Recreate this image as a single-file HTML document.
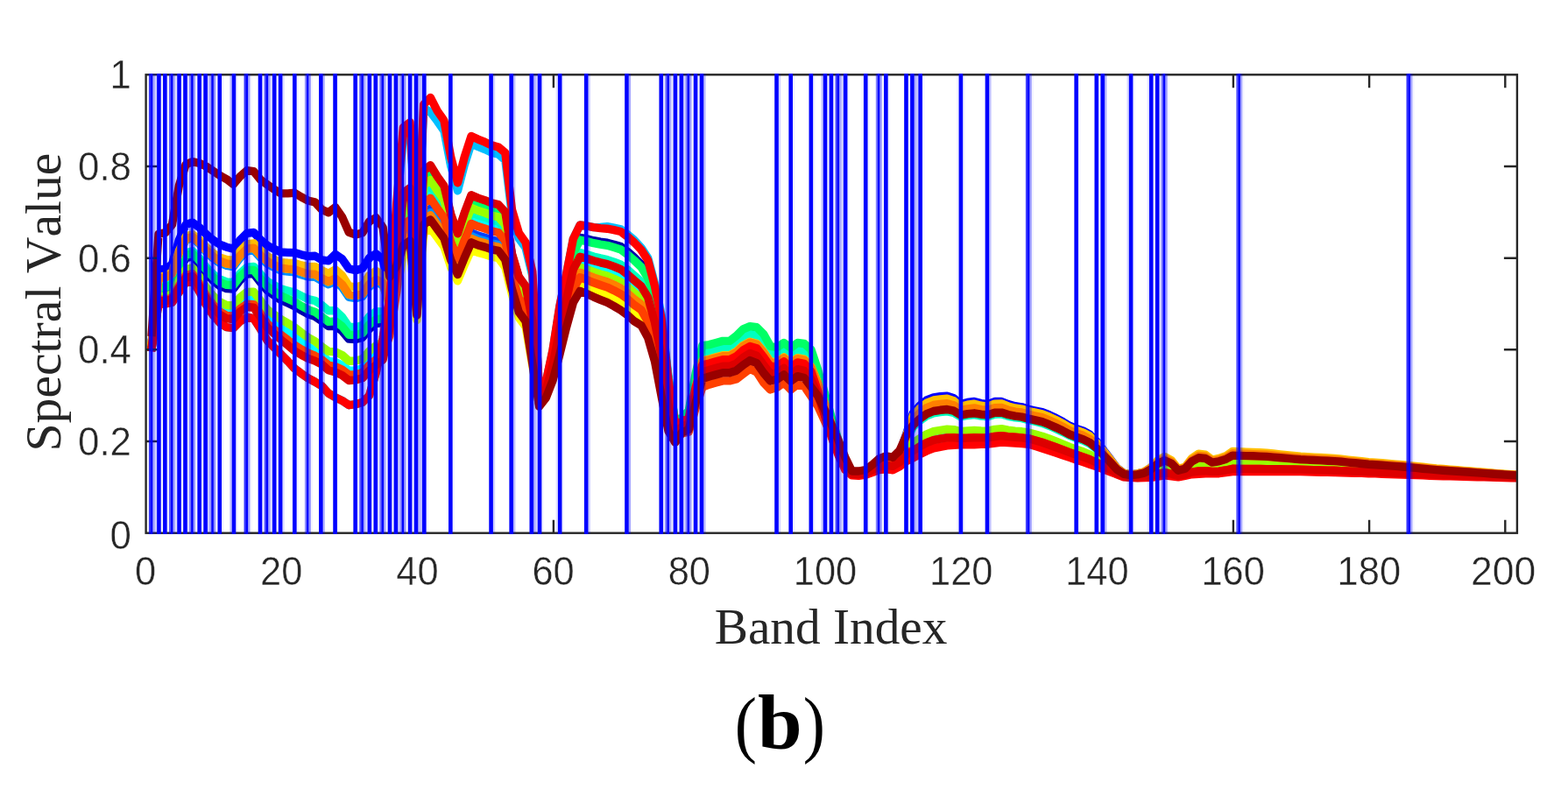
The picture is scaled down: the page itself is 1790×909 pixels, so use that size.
<!DOCTYPE html>
<html><head><meta charset="utf-8"><title>Spectral Value vs Band Index (b)</title>
<style>
html,body{margin:0;padding:0;background:#fff;}
body{width:1790px;height:909px;overflow:hidden;position:relative;}
svg{position:absolute;left:0;top:0;display:block;}
.tk{font-family:"Liberation Sans",Arial,Helvetica,sans-serif;font-size:43px;fill:#262626;stroke:#fff;stroke-width:0.4px;paint-order:fill stroke;}
.lb{font-family:"Liberation Serif","Times New Roman",Times,serif;font-size:57.3px;fill:#262626;font-kerning:none;}
.cap{font-family:"Liberation Serif","DejaVu Serif",serif;fill:#000;}
</style></head>
<body>
<svg width="1790" height="909" viewBox="0 0 1790 909">
<rect x="0" y="0" width="1790" height="909" fill="#fff"/>
<g>
<defs><clipPath id="pc"><rect x="166.6" y="85.3" width="1565.3" height="523.4"/></clipPath></defs>
<g clip-path="url(#pc)" fill="none" stroke-linejoin="round" stroke-linecap="square">
<path d="M173.3 393.2 L181.0 330.7 L188.8 330.3 L196.5 327.2 L204.3 309.0 L212.1 294.8 L219.8 292.9 L227.6 301.2 L235.3 312.1 L243.1 320.3 L250.9 326.5 L258.6 329.5 L266.4 330.0 L274.1 320.0 L281.9 312.8 L289.7 312.7 L297.4 322.5 L305.2 331.8 L312.9 337.3 L320.7 342.5 L328.5 346.1 L336.2 349.6 L344.0 354.4 L351.7 358.7 L359.5 361.3 L367.3 366.7 L375.0 372.6 L382.8 372.3 L390.5 377.9 L398.3 387.1 L406.1 387.5 L413.8 385.4 L421.6 375.5 L429.3 369.7 L437.1 368.4 L444.9 353.7 L452.6 292.4 L460.4 221.8 L468.1 216.3 L475.9 327.2 L483.7 197.0 L491.4 190.5 L499.2 203.2 L506.9 213.9 L514.7 246.1 L522.5 268.2 L530.2 244.7 L538.0 224.2 L545.7 227.6 L553.5 230.2 L561.3 233.3 L569.0 235.1 L576.8 243.6 L584.5 291.0 L592.3 317.2 L600.1 327.9 L607.8 359.3 L615.6 453.0 L623.3 442.0 L631.1 409.1 L638.9 362.6 L646.6 324.5 L654.4 286.5 L662.1 271.3 L669.9 272.7 L677.7 274.7 L685.4 276.2 L693.2 277.2 L700.9 279.2 L708.7 281.6 L716.5 287.4 L724.2 294.1 L732.0 301.8 L739.7 314.1 L747.5 338.7 L755.3 371.5 L763.0 433.9 L770.8 483.0 L778.5 478.7 L786.3 471.7 L794.1 432.0 L801.8 401.7 L809.6 400.4 L817.3 398.3 L825.1 396.2 L832.9 396.2 L840.6 391.0 L848.4 383.5 L856.1 379.9 L863.9 381.4 L871.7 389.9 L879.4 402.8 L887.2 403.6 L894.9 398.3 L902.7 404.4 L910.5 398.6 L918.2 399.8 L926.0 407.3 L933.7 428.7 L941.5 453.9 L949.3 480.1 L957.0 504.2 L964.8 526.3 L972.5 539.9 L980.3 540.1 L988.1 538.8 L995.8 534.3 L1003.6 529.0 L1011.3 526.8 L1019.1 528.1 L1026.9 520.0 L1034.6 502.2 L1042.4 485.4 L1050.1 478.2 L1057.9 472.6 L1065.7 469.5 L1073.4 468.3 L1081.2 467.5 L1088.9 469.2 L1096.7 474.1 L1104.5 472.6 L1112.2 471.8 L1120.0 473.2 L1127.7 473.9 L1135.5 471.3 L1143.3 471.1 L1151.0 473.5 L1158.8 475.2 L1166.5 476.1 L1174.3 478.1 L1182.1 479.9 L1189.8 481.7 L1197.6 484.7 L1205.3 488.1 L1213.1 491.8 L1220.9 496.0 L1228.6 499.0 L1236.4 501.6 L1244.1 505.4 L1251.9 511.8 L1259.7 520.2 L1267.4 528.4 L1275.2 536.7 L1282.9 541.7 L1290.7 543.0 L1298.5 542.5 L1306.2 541.2 L1314.0 538.0 L1321.7 533.0 L1329.5 530.3 L1337.3 533.4 L1345.0 539.7 L1352.8 537.8 L1360.5 531.6 L1368.3 528.5 L1376.1 528.9 L1383.8 532.0 L1391.6 531.2 L1399.3 529.2 L1407.1 525.9 L1414.9 526.0 L1422.6 526.2 L1430.4 526.4 L1438.1 526.6 L1445.9 526.8 L1453.7 527.2 L1461.4 527.7 L1469.2 528.1 L1476.9 528.6 L1484.7 529.1 L1492.5 529.4 L1500.2 529.7 L1508.0 530.0 L1515.7 530.4 L1523.5 530.7 L1531.3 531.2 L1539.0 531.8 L1546.8 532.4 L1554.5 532.9 L1562.3 533.5 L1570.1 533.9 L1577.8 534.4 L1585.6 534.9 L1593.3 535.4 L1601.1 535.8 L1608.9 536.4 L1616.6 537.0 L1624.4 537.6 L1632.1 538.2 L1639.9 538.8 L1647.7 539.2 L1655.4 539.6 L1663.2 540.1 L1670.9 540.5 L1678.7 540.9 L1686.5 541.4 L1694.2 541.8 L1702.0 542.2 L1709.7 542.7 L1717.5 543.1 L1725.3 543.5 L1733.0 543.9" stroke="#0000aa" stroke-width="9.4"/>
<path d="M173.3 388.3 L181.0 308.0 L188.8 307.1 L196.5 301.8 L204.3 274.3 L212.1 256.4 L219.8 254.1 L227.6 259.6 L235.3 267.4 L243.1 274.0 L250.9 279.2 L258.6 282.2 L266.4 284.1 L274.1 274.0 L281.9 266.4 L289.7 265.5 L297.4 273.9 L305.2 280.4 L312.9 284.4 L320.7 287.9 L328.5 288.4 L336.2 288.5 L344.0 290.8 L351.7 292.6 L359.5 292.3 L367.3 296.8 L375.0 297.9 L382.8 290.4 L390.5 295.6 L398.3 306.8 L406.1 308.6 L413.8 306.5 L421.6 294.6 L429.3 289.8 L437.1 296.6 L444.9 332.2 L452.6 309.1 L460.4 270.7 L468.1 265.4 L475.9 354.8 L483.7 246.8 L491.4 241.2 L499.2 252.3 L506.9 262.9 L514.7 288.8 L522.5 306.3 L530.2 286.5 L538.0 268.4 L545.7 271.6 L553.5 273.8 L561.3 276.6 L569.0 278.2 L576.8 288.1 L584.5 323.9 L592.3 350.1 L600.1 360.7 L607.8 402.7 L615.6 461.3 L623.3 451.0 L631.1 427.1 L638.9 392.3 L646.6 358.5 L654.4 327.2 L662.1 313.5 L669.9 316.1 L677.7 319.3 L685.4 321.9 L693.2 324.4 L700.9 327.9 L708.7 331.9 L716.5 337.7 L724.2 344.4 L732.0 350.1 L739.7 363.6 L747.5 387.5 L755.3 423.0 L763.0 468.5 L770.8 495.3 L778.5 486.5 L786.3 480.7 L794.1 444.1 L801.8 413.6 L809.6 411.8 L817.3 409.7 L825.1 407.6 L832.9 407.6 L840.6 403.4 L848.4 396.3 L856.1 392.1 L863.9 394.2 L871.7 403.7 L879.4 415.2 L887.2 414.9 L894.9 409.7 L902.7 416.3 L910.5 410.5 L918.2 412.0 L926.0 420.7 L933.7 439.0 L941.5 461.8 L949.3 485.3 L957.0 506.7 L964.8 527.0 L972.5 539.9 L980.3 540.1 L988.1 538.8 L995.8 534.3 L1003.6 529.0 L1011.3 526.8 L1019.1 528.1 L1026.9 518.2 L1034.6 495.7 L1042.4 471.6 L1050.1 463.2 L1057.9 456.9 L1065.7 453.8 L1073.4 452.7 L1081.2 452.2 L1088.9 454.8 L1096.7 461.6 L1104.5 459.5 L1112.2 458.5 L1120.0 460.6 L1127.7 461.6 L1135.5 458.5 L1143.3 458.5 L1151.0 461.6 L1158.8 463.7 L1166.5 464.8 L1174.3 467.4 L1182.1 469.0 L1189.8 470.5 L1197.6 473.7 L1205.3 477.3 L1213.1 481.5 L1220.9 486.2 L1228.6 489.4 L1236.4 492.0 L1244.1 496.2 L1251.9 504.0 L1259.7 514.1 L1267.4 524.2 L1275.2 534.6 L1282.9 540.3 L1290.7 541.9 L1298.5 540.9 L1306.2 539.0 L1314.0 534.1 L1321.7 526.9 L1329.5 523.1 L1337.3 527.2 L1345.0 536.4 L1352.8 534.3 L1360.5 525.2 L1368.3 520.5 L1376.1 521.3 L1383.8 526.5 L1391.6 525.1 L1399.3 522.7 L1407.1 517.8 L1414.9 518.1 L1422.6 518.3 L1430.4 518.6 L1438.1 518.9 L1445.9 519.3 L1453.7 520.0 L1461.4 520.8 L1469.2 521.5 L1476.9 522.3 L1484.7 523.0 L1492.5 523.4 L1500.2 523.8 L1508.0 524.2 L1515.7 524.6 L1523.5 525.0 L1531.3 525.8 L1539.0 526.6 L1546.8 527.3 L1554.5 528.1 L1562.3 528.9 L1570.1 529.5 L1577.8 530.1 L1585.6 530.7 L1593.3 531.3 L1601.1 531.8 L1608.9 532.6 L1616.6 533.4 L1624.4 534.2 L1632.1 535.0 L1639.9 535.8 L1647.7 536.3 L1655.4 536.9 L1663.2 537.5 L1670.9 538.1 L1678.7 538.7 L1686.5 539.3 L1694.2 539.9 L1702.0 540.4 L1709.7 541.0 L1717.5 541.6 L1725.3 542.1 L1733.0 542.6" stroke="#0000ff" stroke-width="9.4"/>
<path d="M173.3 390.3 L181.0 317.5 L188.8 316.9 L196.5 312.5 L204.3 288.9 L212.1 272.6 L219.8 270.5 L227.6 276.9 L235.3 285.8 L243.1 292.8 L250.9 298.2 L258.6 301.0 L266.4 302.1 L274.1 291.8 L281.9 284.1 L289.7 283.1 L297.4 291.5 L305.2 298.5 L312.9 302.5 L320.7 306.1 L328.5 307.1 L336.2 307.7 L344.0 310.6 L351.7 312.9 L359.5 313.2 L367.3 317.8 L375.0 321.7 L382.8 318.0 L390.5 324.7 L398.3 336.4 L406.1 337.7 L413.8 335.6 L421.6 324.4 L429.3 319.3 L437.1 323.1 L444.9 344.9 L452.6 315.8 L460.4 267.8 L468.1 262.5 L475.9 353.1 L483.7 243.9 L491.4 238.3 L499.2 249.4 L506.9 260.0 L514.7 286.3 L522.5 304.0 L530.2 284.1 L538.0 265.8 L545.7 269.0 L553.5 271.2 L561.3 274.0 L569.0 275.7 L576.8 285.5 L584.5 322.0 L592.3 348.2 L600.1 358.7 L607.8 400.2 L615.6 460.8 L623.3 450.5 L631.1 426.1 L638.9 390.7 L646.6 356.7 L654.4 325.1 L662.1 311.2 L669.9 313.8 L677.7 316.9 L685.4 319.4 L693.2 321.8 L700.9 325.3 L708.7 329.2 L716.5 335.0 L724.2 341.7 L732.0 347.5 L739.7 361.0 L747.5 386.2 L755.3 423.2 L763.0 470.0 L770.8 496.4 L778.5 487.6 L786.3 482.5 L794.1 447.6 L801.8 418.3 L809.6 416.4 L817.3 414.3 L825.1 412.2 L832.9 412.2 L840.6 408.3 L848.4 401.4 L856.1 397.0 L863.9 399.3 L871.7 409.3 L879.4 420.1 L887.2 419.5 L894.9 414.3 L902.7 421.1 L910.5 415.3 L918.2 416.9 L926.0 426.0 L933.7 443.1 L941.5 465.0 L949.3 487.4 L957.0 507.8 L964.8 527.4 L972.5 539.9 L980.3 540.1 L988.1 538.8 L995.8 534.3 L1003.6 529.0 L1011.3 526.8 L1019.1 528.1 L1026.9 519.2 L1034.6 499.3 L1042.4 479.3 L1050.1 471.5 L1057.9 465.6 L1065.7 462.5 L1073.4 461.4 L1081.2 460.7 L1088.9 462.8 L1096.7 468.6 L1104.5 466.8 L1112.2 465.9 L1120.0 467.6 L1127.7 468.5 L1135.5 465.6 L1143.3 465.5 L1151.0 468.2 L1158.8 470.1 L1166.5 471.0 L1174.3 473.3 L1182.1 475.0 L1189.8 476.7 L1197.6 479.8 L1205.3 483.3 L1213.1 487.2 L1220.9 491.6 L1228.6 494.7 L1236.4 497.3 L1244.1 501.3 L1251.9 508.3 L1259.7 517.5 L1267.4 526.5 L1275.2 535.8 L1282.9 541.1 L1290.7 542.5 L1298.5 541.8 L1306.2 540.2 L1314.0 536.3 L1321.7 530.4 L1329.5 527.2 L1337.3 530.7 L1345.0 538.3 L1352.8 536.3 L1360.5 528.9 L1368.3 525.1 L1376.1 525.6 L1383.8 529.7 L1391.6 528.6 L1399.3 526.4 L1407.1 522.4 L1414.9 522.6 L1422.6 522.8 L1430.4 523.1 L1438.1 523.3 L1445.9 523.5 L1453.7 524.1 L1461.4 524.7 L1469.2 525.3 L1476.9 525.9 L1484.7 526.5 L1492.5 526.8 L1500.2 527.2 L1508.0 527.5 L1515.7 527.9 L1523.5 528.3 L1531.3 528.9 L1539.0 529.6 L1546.8 530.2 L1554.5 530.8 L1562.3 531.5 L1570.1 532.0 L1577.8 532.5 L1585.6 533.1 L1593.3 533.6 L1601.1 534.1 L1608.9 534.8 L1616.6 535.5 L1624.4 536.1 L1632.1 536.8 L1639.9 537.5 L1647.7 538.0 L1655.4 538.5 L1663.2 539.0 L1670.9 539.5 L1678.7 540.0 L1686.5 540.5 L1694.2 541.0 L1702.0 541.5 L1709.7 542.0 L1717.5 542.5 L1725.3 542.9 L1733.0 543.3" stroke="#0040ff" stroke-width="9.4"/>
<path d="M173.3 390.5 L181.0 318.3 L188.8 317.7 L196.5 313.4 L204.3 290.1 L212.1 273.9 L219.8 271.8 L227.6 278.5 L235.3 287.6 L243.1 294.8 L250.9 300.4 L258.6 303.3 L266.4 304.5 L274.1 294.3 L281.9 286.8 L289.7 285.8 L297.4 294.2 L305.2 301.3 L312.9 305.4 L320.7 309.0 L328.5 310.1 L336.2 310.9 L344.0 313.8 L351.7 316.0 L359.5 316.3 L367.3 320.8 L375.0 324.8 L382.8 321.3 L390.5 327.8 L398.3 339.3 L406.1 340.6 L413.8 338.5 L421.6 327.4 L429.3 322.2 L437.1 325.7 L444.9 347.7 L452.6 320.4 L460.4 272.2 L468.1 266.9 L475.9 355.6 L483.7 248.3 L491.4 242.7 L499.2 253.8 L506.9 264.3 L514.7 290.1 L522.5 307.4 L530.2 287.8 L538.0 269.7 L545.7 272.9 L553.5 275.1 L561.3 277.8 L569.0 279.5 L576.8 289.4 L584.5 324.9 L592.3 351.1 L600.1 361.6 L607.8 403.5 L615.6 461.4 L623.3 451.0 L631.1 427.2 L638.9 392.3 L646.6 358.5 L654.4 327.2 L662.1 313.5 L669.9 316.1 L677.7 319.3 L685.4 321.9 L693.2 324.4 L700.9 327.9 L708.7 331.9 L716.5 337.7 L724.2 344.4 L732.0 350.1 L739.7 363.6 L747.5 388.1 L755.3 424.3 L763.0 470.0 L770.8 496.1 L778.5 487.2 L786.3 481.7 L794.1 445.9 L801.8 415.9 L809.6 414.1 L817.3 412.0 L825.1 409.9 L832.9 409.9 L840.6 405.9 L848.4 398.9 L856.1 394.6 L863.9 396.8 L871.7 406.5 L879.4 417.7 L887.2 417.2 L894.9 412.0 L902.7 418.7 L910.5 412.9 L918.2 414.4 L926.0 423.4 L933.7 441.1 L941.5 463.4 L949.3 486.4 L957.0 507.2 L964.8 527.2 L972.5 539.9 L980.3 540.1 L988.1 538.8 L995.8 534.3 L1003.6 529.0 L1011.3 526.8 L1019.1 528.1 L1026.9 519.2 L1034.6 499.3 L1042.4 479.3 L1050.1 471.5 L1057.9 465.6 L1065.7 462.5 L1073.4 461.4 L1081.2 460.7 L1088.9 462.8 L1096.7 468.6 L1104.5 466.8 L1112.2 465.9 L1120.0 467.6 L1127.7 468.5 L1135.5 465.6 L1143.3 465.5 L1151.0 468.2 L1158.8 470.1 L1166.5 471.0 L1174.3 473.3 L1182.1 475.0 L1189.8 476.7 L1197.6 479.8 L1205.3 483.3 L1213.1 487.2 L1220.9 491.6 L1228.6 494.7 L1236.4 497.3 L1244.1 501.3 L1251.9 508.3 L1259.7 517.5 L1267.4 526.5 L1275.2 535.8 L1282.9 541.1 L1290.7 542.5 L1298.5 541.8 L1306.2 540.2 L1314.0 536.3 L1321.7 530.4 L1329.5 527.2 L1337.3 530.7 L1345.0 538.3 L1352.8 536.3 L1360.5 528.9 L1368.3 525.1 L1376.1 525.6 L1383.8 529.7 L1391.6 528.6 L1399.3 526.4 L1407.1 522.4 L1414.9 522.6 L1422.6 522.8 L1430.4 523.1 L1438.1 523.3 L1445.9 523.5 L1453.7 524.1 L1461.4 524.7 L1469.2 525.3 L1476.9 525.9 L1484.7 526.5 L1492.5 526.8 L1500.2 527.2 L1508.0 527.5 L1515.7 527.9 L1523.5 528.3 L1531.3 528.9 L1539.0 529.6 L1546.8 530.2 L1554.5 530.8 L1562.3 531.5 L1570.1 532.0 L1577.8 532.5 L1585.6 533.1 L1593.3 533.6 L1601.1 534.1 L1608.9 534.8 L1616.6 535.5 L1624.4 536.1 L1632.1 536.8 L1639.9 537.5 L1647.7 538.0 L1655.4 538.5 L1663.2 539.0 L1670.9 539.5 L1678.7 540.0 L1686.5 540.5 L1694.2 541.0 L1702.0 541.5 L1709.7 542.0 L1717.5 542.5 L1725.3 542.9 L1733.0 543.3" stroke="#0090ff" stroke-width="9.4"/>
<path d="M173.3 396.7 L181.0 347.0 L188.8 347.0 L196.5 345.4 L204.3 333.9 L212.1 322.4 L219.8 320.8 L227.6 332.9 L235.3 348.0 L243.1 359.6 L250.9 368.5 L258.6 373.7 L266.4 374.7 L274.1 366.9 L281.9 362.2 L289.7 363.7 L297.4 375.8 L305.2 388.9 L312.9 396.7 L320.7 404.6 L328.5 412.4 L336.2 420.8 L344.0 426.6 L351.7 431.8 L359.5 436.0 L367.3 440.7 L375.0 449.1 L382.8 453.8 L390.5 457.4 L398.3 462.7 L406.1 461.6 L413.8 459.5 L421.6 451.7 L429.3 425.2 L437.1 386.6 L444.9 342.0 L452.6 241.9 L460.4 154.8 L468.1 147.4 L475.9 287.6 L483.7 123.7 L491.4 127.9 L499.2 138.2 L506.9 149.2 L514.7 189.6 L522.5 217.8 L530.2 188.4 L538.0 163.9 L545.7 167.5 L553.5 170.6 L561.3 174.2 L569.0 176.2 L576.8 182.8 L584.5 246.0 L592.3 272.2 L600.1 283.1 L607.8 314.9 L615.6 446.8 L623.3 436.2 L631.1 399.7 L638.9 349.9 L646.6 313.0 L654.4 272.7 L662.1 257.0 L669.9 258.0 L677.7 259.6 L685.4 259.4 L693.2 258.6 L700.9 260.1 L708.7 261.8 L716.5 267.7 L724.2 274.4 L732.0 282.9 L739.7 294.6 L747.5 323.6 L755.3 360.5 L763.0 430.5 L770.8 483.5 L778.5 480.3 L786.3 475.3 L794.1 440.0 L801.8 413.6 L809.6 411.8 L817.3 409.7 L825.1 407.6 L832.9 407.6 L840.6 403.4 L848.4 396.3 L856.1 392.1 L863.9 394.2 L871.7 403.7 L879.4 415.2 L887.2 414.9 L894.9 409.7 L902.7 416.3 L910.5 410.5 L918.2 412.0 L926.0 420.7 L933.7 439.0 L941.5 461.8 L949.3 485.3 L957.0 506.7 L964.8 527.0 L972.5 539.9 L980.3 540.1 L988.1 538.8 L995.8 534.3 L1003.6 529.0 L1011.3 526.8 L1019.1 528.1 L1026.9 524.5 L1034.6 518.4 L1042.4 520.3 L1050.1 516.1 L1057.9 512.1 L1065.7 509.0 L1073.4 507.4 L1081.2 506.1 L1088.9 505.5 L1096.7 505.6 L1104.5 505.4 L1112.2 505.2 L1120.0 505.1 L1127.7 504.9 L1135.5 503.7 L1143.3 502.7 L1151.0 503.4 L1158.8 504.0 L1166.5 504.5 L1174.3 505.2 L1182.1 507.5 L1189.8 509.8 L1197.6 512.4 L1205.3 515.1 L1213.1 517.8 L1220.9 520.5 L1228.6 523.2 L1236.4 525.8 L1244.1 528.5 L1251.9 531.4 L1259.7 534.6 L1267.4 538.0 L1275.2 541.4 L1282.9 544.5 L1290.7 545.1 L1298.5 545.5 L1306.2 545.1 L1314.0 544.4 L1321.7 542.4 L1329.5 540.8 L1337.3 542.0 L1345.0 543.9 L1352.8 542.3 L1360.5 539.9 L1368.3 538.9 L1376.1 538.5 L1383.8 539.1 L1391.6 538.9 L1399.3 537.7 L1407.1 536.3 L1414.9 536.3 L1422.6 536.3 L1430.4 536.3 L1438.1 536.4 L1445.9 536.4 L1453.7 536.5 L1461.4 536.6 L1469.2 536.7 L1476.9 536.8 L1484.7 536.8 L1492.5 537.1 L1500.2 537.3 L1508.0 537.5 L1515.7 537.8 L1523.5 538.0 L1531.3 538.3 L1539.0 538.5 L1546.8 538.8 L1554.5 539.1 L1562.3 539.3 L1570.1 539.7 L1577.8 540.0 L1585.6 540.3 L1593.3 540.6 L1601.1 540.9 L1608.9 541.3 L1616.6 541.6 L1624.4 541.9 L1632.1 542.3 L1639.9 542.6 L1647.7 542.9 L1655.4 543.1 L1663.2 543.4 L1670.9 543.6 L1678.7 543.8 L1686.5 544.1 L1694.2 544.3 L1702.0 544.6 L1709.7 544.8 L1717.5 545.0 L1725.3 545.3 L1733.0 545.5" stroke="#00bfff" stroke-width="9.4"/>
<path d="M173.3 395.3 L181.0 340.6 L188.8 340.5 L196.5 338.3 L204.3 324.2 L212.1 311.6 L219.8 309.9 L227.6 320.3 L235.3 333.6 L243.1 343.6 L250.9 351.2 L258.6 355.4 L266.4 356.0 L274.1 347.1 L281.9 341.2 L289.7 341.4 L297.4 351.6 L305.2 362.2 L312.9 368.2 L320.7 374.0 L328.5 379.0 L336.2 384.1 L344.0 390.3 L351.7 395.9 L359.5 400.3 L367.3 406.2 L375.0 412.3 L382.8 413.5 L390.5 417.0 L398.3 423.2 L406.1 422.9 L413.8 420.8 L421.6 411.9 L429.3 405.6 L437.1 400.7 L444.9 378.5 L452.6 325.5 L460.4 247.7 L468.1 242.3 L475.9 341.8 L483.7 223.4 L491.4 217.4 L499.2 229.2 L506.9 239.8 L514.7 268.7 L522.5 288.3 L530.2 266.8 L538.0 247.6 L545.7 250.9 L553.5 253.3 L561.3 256.2 L569.0 257.9 L576.8 267.2 L584.5 308.5 L592.3 334.6 L600.1 345.2 L607.8 384.6 L615.6 458.2 L623.3 447.7 L631.1 420.9 L638.9 382.4 L646.6 347.6 L654.4 314.1 L662.1 299.9 L669.9 302.2 L677.7 304.9 L685.4 307.2 L693.2 309.2 L700.9 312.3 L708.7 315.7 L716.5 321.5 L724.2 328.3 L732.0 334.6 L739.7 347.7 L747.5 374.5 L755.3 412.6 L763.0 464.1 L770.8 494.9 L778.5 487.1 L786.3 482.5 L794.1 448.6 L801.8 420.7 L809.6 418.6 L817.3 416.5 L825.1 414.4 L832.9 414.4 L840.6 410.8 L848.4 404.0 L856.1 399.4 L863.9 401.9 L871.7 412.1 L879.4 422.6 L887.2 421.8 L894.9 416.5 L902.7 423.4 L910.5 417.7 L918.2 419.3 L926.0 428.7 L933.7 445.2 L941.5 466.6 L949.3 488.5 L957.0 508.3 L964.8 527.5 L972.5 539.9 L980.3 540.1 L988.1 538.8 L995.8 534.3 L1003.6 529.0 L1011.3 526.8 L1019.1 528.1 L1026.9 523.1 L1034.6 513.1 L1042.4 509.0 L1050.1 503.8 L1057.9 499.3 L1065.7 496.2 L1073.4 494.8 L1081.2 493.6 L1088.9 493.8 L1096.7 495.4 L1104.5 494.8 L1112.2 494.4 L1120.0 494.8 L1127.7 494.9 L1135.5 493.3 L1143.3 492.5 L1151.0 493.7 L1158.8 494.7 L1166.5 495.3 L1174.3 496.4 L1182.1 498.6 L1189.8 500.7 L1197.6 503.5 L1205.3 506.4 L1213.1 509.4 L1220.9 512.6 L1228.6 515.3 L1236.4 518.0 L1244.1 521.0 L1251.9 525.0 L1259.7 529.4 L1267.4 534.1 L1275.2 539.3 L1282.9 543.1 L1290.7 544.0 L1298.5 543.7 L1306.2 542.6 L1314.0 539.9 L1321.7 535.1 L1329.5 532.0 L1337.3 534.2 L1345.0 539.7 L1352.8 537.8 L1360.5 531.6 L1368.3 528.5 L1376.1 528.9 L1383.8 532.0 L1391.6 531.2 L1399.3 529.2 L1407.1 525.9 L1414.9 526.0 L1422.6 526.2 L1430.4 526.4 L1438.1 526.6 L1445.9 526.8 L1453.7 527.2 L1461.4 527.7 L1469.2 528.1 L1476.9 528.6 L1484.7 529.1 L1492.5 529.4 L1500.2 529.7 L1508.0 530.0 L1515.7 530.4 L1523.5 530.7 L1531.3 531.2 L1539.0 531.8 L1546.8 532.4 L1554.5 532.9 L1562.3 533.5 L1570.1 533.9 L1577.8 534.4 L1585.6 534.9 L1593.3 535.4 L1601.1 535.8 L1608.9 536.4 L1616.6 537.0 L1624.4 537.6 L1632.1 538.2 L1639.9 538.8 L1647.7 539.2 L1655.4 539.6 L1663.2 540.1 L1670.9 540.5 L1678.7 540.9 L1686.5 541.4 L1694.2 541.8 L1702.0 542.2 L1709.7 542.7 L1717.5 543.1 L1725.3 543.5 L1733.0 543.9" stroke="#00ffff" stroke-width="9.4"/>
<path d="M173.3 392.4 L181.0 327.1 L188.8 326.7 L196.5 323.2 L204.3 303.5 L212.1 288.7 L219.8 286.8 L227.6 294.6 L235.3 305.0 L243.1 312.9 L250.9 318.9 L258.6 321.9 L266.4 322.6 L274.1 312.5 L281.9 305.2 L289.7 304.4 L297.4 313.2 L305.2 321.3 L312.9 325.7 L320.7 329.9 L328.5 332.0 L336.2 334.0 L344.0 338.0 L351.7 341.6 L359.5 343.3 L367.3 348.4 L375.0 354.8 L382.8 354.7 L390.5 361.9 L398.3 373.1 L406.1 373.7 L413.8 371.6 L421.6 361.4 L429.3 355.8 L437.1 355.9 L444.9 353.7 L452.6 305.1 L460.4 241.9 L468.1 236.5 L475.9 338.5 L483.7 217.5 L491.4 211.4 L499.2 223.4 L506.9 234.1 L514.7 263.7 L522.5 283.9 L530.2 261.9 L538.0 242.4 L545.7 245.7 L553.5 248.2 L561.3 251.1 L569.0 252.9 L576.8 261.9 L584.5 304.6 L592.3 330.7 L600.1 341.4 L607.8 377.1 L615.6 456.4 L623.3 445.7 L631.1 416.5 L638.9 374.8 L646.6 338.5 L654.4 303.2 L662.1 288.6 L669.9 290.6 L677.7 293.0 L685.4 294.9 L693.2 296.6 L700.9 299.2 L708.7 302.2 L716.5 308.1 L724.2 314.8 L732.0 321.6 L739.7 334.4 L747.5 357.9 L755.3 390.7 L763.0 446.0 L770.8 487.0 L778.5 481.0 L786.3 473.9 L794.1 434.3 L801.8 403.2 L809.6 401.8 L817.3 399.7 L825.1 397.6 L832.9 397.6 L840.6 392.5 L848.4 385.0 L856.1 381.4 L863.9 382.9 L871.7 391.5 L879.4 404.3 L887.2 404.9 L894.9 399.7 L902.7 405.8 L910.5 400.1 L918.2 401.3 L926.0 408.9 L933.7 429.9 L941.5 454.8 L949.3 480.8 L957.0 504.5 L964.8 526.4 L972.5 539.9 L980.3 540.1 L988.1 538.8 L995.8 534.3 L1003.6 529.0 L1011.3 526.8 L1019.1 528.1 L1026.9 520.3 L1034.6 503.1 L1042.4 487.5 L1050.1 480.4 L1057.9 474.9 L1065.7 471.8 L1073.4 470.6 L1081.2 469.8 L1088.9 471.4 L1096.7 476.0 L1104.5 474.5 L1112.2 473.7 L1120.0 475.1 L1127.7 475.7 L1135.5 473.2 L1143.3 472.9 L1151.0 475.3 L1158.8 476.9 L1166.5 477.7 L1174.3 479.7 L1182.1 481.5 L1189.8 483.3 L1197.6 486.3 L1205.3 489.7 L1213.1 493.4 L1220.9 497.4 L1228.6 500.4 L1236.4 503.0 L1244.1 506.7 L1251.9 512.9 L1259.7 521.0 L1267.4 528.9 L1275.2 537.0 L1282.9 541.8 L1290.7 543.1 L1298.5 542.6 L1306.2 541.3 L1314.0 538.2 L1321.7 533.2 L1329.5 530.4 L1337.3 533.5 L1345.0 539.7 L1352.8 537.8 L1360.5 531.6 L1368.3 528.5 L1376.1 528.9 L1383.8 532.0 L1391.6 531.2 L1399.3 529.2 L1407.1 525.9 L1414.9 526.0 L1422.6 526.2 L1430.4 526.4 L1438.1 526.6 L1445.9 526.8 L1453.7 527.2 L1461.4 527.7 L1469.2 528.1 L1476.9 528.6 L1484.7 529.1 L1492.5 529.4 L1500.2 529.7 L1508.0 530.0 L1515.7 530.4 L1523.5 530.7 L1531.3 531.2 L1539.0 531.8 L1546.8 532.4 L1554.5 532.9 L1562.3 533.5 L1570.1 533.9 L1577.8 534.4 L1585.6 534.9 L1593.3 535.4 L1601.1 535.8 L1608.9 536.4 L1616.6 537.0 L1624.4 537.6 L1632.1 538.2 L1639.9 538.8 L1647.7 539.2 L1655.4 539.6 L1663.2 540.1 L1670.9 540.5 L1678.7 540.9 L1686.5 541.4 L1694.2 541.8 L1702.0 542.2 L1709.7 542.7 L1717.5 543.1 L1725.3 543.5 L1733.0 543.9" stroke="#00ffc0" stroke-width="9.4"/>
<path d="M173.3 392.8 L181.0 328.7 L188.8 328.3 L196.5 325.0 L204.3 305.9 L212.1 291.4 L219.8 289.5 L227.6 297.5 L235.3 308.1 L243.1 316.2 L250.9 322.3 L258.6 325.3 L266.4 325.8 L274.1 315.8 L281.9 308.6 L289.7 308.5 L297.4 318.3 L305.2 327.4 L312.9 332.7 L320.7 337.9 L328.5 341.3 L336.2 344.6 L344.0 349.4 L351.7 353.6 L359.5 356.2 L367.3 361.7 L375.0 367.4 L382.8 366.9 L390.5 372.6 L398.3 382.2 L406.1 382.6 L413.8 380.5 L421.6 370.5 L429.3 364.8 L437.1 364.0 L444.9 354.2 L452.6 298.2 L460.4 230.4 L468.1 225.0 L475.9 332.1 L483.7 205.8 L491.4 199.5 L499.2 211.9 L506.9 222.6 L514.7 253.6 L522.5 274.9 L530.2 252.1 L538.0 232.0 L545.7 235.4 L553.5 237.9 L561.3 240.9 L569.0 242.7 L576.8 251.5 L584.5 296.8 L592.3 323.0 L600.1 333.7 L607.8 365.2 L615.6 453.9 L623.3 442.8 L631.1 410.6 L638.9 364.8 L646.6 326.8 L654.4 289.2 L662.1 274.1 L669.9 275.6 L677.7 277.7 L685.4 279.2 L693.2 280.3 L700.9 282.5 L708.7 284.9 L716.5 290.7 L724.2 297.5 L732.0 305.0 L739.7 317.4 L747.5 340.0 L755.3 370.4 L763.0 431.3 L770.8 481.3 L778.5 477.0 L786.3 468.9 L794.1 426.7 L801.8 394.6 L809.6 393.6 L817.3 391.5 L825.1 389.4 L832.9 389.4 L840.6 383.6 L848.4 375.8 L856.1 372.6 L863.9 373.7 L871.7 381.5 L879.4 395.4 L887.2 396.7 L894.9 391.5 L902.7 397.2 L910.5 391.5 L918.2 392.5 L926.0 399.3 L933.7 422.5 L941.5 449.1 L949.3 477.0 L957.0 502.7 L964.8 525.8 L972.5 539.9 L980.3 540.1 L988.1 538.8 L995.8 534.3 L1003.6 529.0 L1011.3 526.8 L1019.1 528.1 L1026.9 520.0 L1034.6 502.2 L1042.4 485.4 L1050.1 478.2 L1057.9 472.6 L1065.7 469.5 L1073.4 468.3 L1081.2 467.5 L1088.9 469.2 L1096.7 474.1 L1104.5 472.6 L1112.2 471.8 L1120.0 473.2 L1127.7 473.9 L1135.5 471.3 L1143.3 471.1 L1151.0 473.5 L1158.8 475.2 L1166.5 476.1 L1174.3 478.1 L1182.1 479.9 L1189.8 481.7 L1197.6 484.7 L1205.3 488.1 L1213.1 491.8 L1220.9 496.0 L1228.6 499.0 L1236.4 501.6 L1244.1 505.4 L1251.9 511.8 L1259.7 520.2 L1267.4 528.4 L1275.2 536.7 L1282.9 541.7 L1290.7 543.0 L1298.5 542.5 L1306.2 541.2 L1314.0 538.0 L1321.7 533.0 L1329.5 530.3 L1337.3 533.4 L1345.0 539.7 L1352.8 537.8 L1360.5 531.6 L1368.3 528.5 L1376.1 528.9 L1383.8 532.0 L1391.6 531.2 L1399.3 529.2 L1407.1 525.9 L1414.9 526.0 L1422.6 526.2 L1430.4 526.4 L1438.1 526.6 L1445.9 526.8 L1453.7 527.2 L1461.4 527.7 L1469.2 528.1 L1476.9 528.6 L1484.7 529.1 L1492.5 529.4 L1500.2 529.7 L1508.0 530.0 L1515.7 530.4 L1523.5 530.7 L1531.3 531.2 L1539.0 531.8 L1546.8 532.4 L1554.5 532.9 L1562.3 533.5 L1570.1 533.9 L1577.8 534.4 L1585.6 534.9 L1593.3 535.4 L1601.1 535.8 L1608.9 536.4 L1616.6 537.0 L1624.4 537.6 L1632.1 538.2 L1639.9 538.8 L1647.7 539.2 L1655.4 539.6 L1663.2 540.1 L1670.9 540.5 L1678.7 540.9 L1686.5 541.4 L1694.2 541.8 L1702.0 542.2 L1709.7 542.7 L1717.5 543.1 L1725.3 543.5 L1733.0 543.9" stroke="#00ff66" stroke-width="9.4"/>
<path d="M173.3 394.8 L181.0 338.2 L188.8 338.1 L196.5 335.6 L204.3 320.5 L212.1 307.6 L219.8 305.9 L227.6 315.6 L235.3 328.2 L243.1 337.7 L250.9 344.8 L258.6 348.5 L266.4 349.0 L274.1 339.7 L281.9 333.4 L289.7 333.3 L297.4 343.4 L305.2 353.5 L312.9 359.2 L320.7 364.7 L328.5 369.1 L336.2 373.7 L344.0 379.8 L351.7 385.4 L359.5 389.6 L367.3 395.8 L375.0 401.4 L382.8 401.8 L390.5 405.4 L398.3 412.2 L406.1 412.0 L413.8 410.0 L421.6 400.8 L429.3 394.6 L437.1 390.8 L444.9 369.8 L452.6 312.4 L460.4 236.2 L468.1 230.7 L475.9 335.3 L483.7 211.6 L491.4 205.4 L499.2 217.7 L506.9 228.3 L514.7 258.7 L522.5 279.4 L530.2 257.0 L538.0 237.2 L545.7 240.5 L553.5 243.0 L561.3 246.0 L569.0 247.8 L576.8 256.7 L584.5 300.7 L592.3 326.9 L600.1 337.5 L607.8 379.9 L615.6 458.1 L623.3 448.0 L631.1 422.0 L638.9 385.2 L646.6 351.8 L654.4 319.2 L662.1 305.2 L669.9 307.6 L677.7 310.5 L685.4 312.9 L693.2 315.1 L700.9 318.3 L708.7 322.0 L716.5 327.8 L724.2 334.6 L732.0 340.6 L739.7 353.9 L747.5 380.8 L755.3 419.5 L763.0 469.0 L770.8 496.7 L778.5 488.3 L786.3 484.0 L794.1 450.8 L801.8 423.1 L809.6 420.9 L817.3 418.8 L825.1 416.7 L832.9 416.7 L840.6 413.3 L848.4 406.6 L856.1 401.9 L863.9 404.5 L871.7 414.8 L879.4 425.1 L887.2 424.0 L894.9 418.8 L902.7 425.8 L910.5 420.1 L918.2 421.7 L926.0 431.4 L933.7 447.3 L941.5 468.2 L949.3 489.5 L957.0 508.8 L964.8 527.7 L972.5 539.9 L980.3 540.1 L988.1 538.8 L995.8 534.3 L1003.6 529.0 L1011.3 526.8 L1019.1 528.1 L1026.9 522.7 L1034.6 511.7 L1042.4 505.9 L1050.1 500.5 L1057.9 495.8 L1065.7 492.7 L1073.4 491.3 L1081.2 490.2 L1088.9 490.6 L1096.7 492.7 L1104.5 491.9 L1112.2 491.4 L1120.0 492.0 L1127.7 492.1 L1135.5 490.4 L1143.3 489.7 L1151.0 491.1 L1158.8 492.1 L1166.5 492.8 L1174.3 494.0 L1182.1 496.1 L1189.8 498.2 L1197.6 501.0 L1205.3 504.0 L1213.1 507.1 L1220.9 510.4 L1228.6 513.2 L1236.4 515.8 L1244.1 519.0 L1251.9 523.3 L1259.7 528.2 L1267.4 533.4 L1275.2 539.0 L1282.9 542.9 L1290.7 543.8 L1298.5 543.6 L1306.2 542.4 L1314.0 539.6 L1321.7 534.9 L1329.5 531.7 L1337.3 534.1 L1345.0 539.7 L1352.8 537.8 L1360.5 531.6 L1368.3 528.5 L1376.1 528.9 L1383.8 532.0 L1391.6 531.2 L1399.3 529.2 L1407.1 525.9 L1414.9 526.0 L1422.6 526.2 L1430.4 526.4 L1438.1 526.6 L1445.9 526.8 L1453.7 527.2 L1461.4 527.7 L1469.2 528.1 L1476.9 528.6 L1484.7 529.1 L1492.5 529.4 L1500.2 529.7 L1508.0 530.0 L1515.7 530.4 L1523.5 530.7 L1531.3 531.2 L1539.0 531.8 L1546.8 532.4 L1554.5 532.9 L1562.3 533.5 L1570.1 533.9 L1577.8 534.4 L1585.6 534.9 L1593.3 535.4 L1601.1 535.8 L1608.9 536.4 L1616.6 537.0 L1624.4 537.6 L1632.1 538.2 L1639.9 538.8 L1647.7 539.2 L1655.4 539.6 L1663.2 540.1 L1670.9 540.5 L1678.7 540.9 L1686.5 541.4 L1694.2 541.8 L1702.0 542.2 L1709.7 542.7 L1717.5 543.1 L1725.3 543.5 L1733.0 543.9" stroke="#99ff00" stroke-width="9.4"/>
<path d="M173.3 390.3 L181.0 317.5 L188.8 316.9 L196.5 312.5 L204.3 288.9 L212.1 272.6 L219.8 270.5 L227.6 276.9 L235.3 285.8 L243.1 292.8 L250.9 298.2 L258.6 301.0 L266.4 302.1 L274.1 291.8 L281.9 284.1 L289.7 283.1 L297.4 291.5 L305.2 298.5 L312.9 302.5 L320.7 306.1 L328.5 307.1 L336.2 307.7 L344.0 310.6 L351.7 312.9 L359.5 313.2 L367.3 317.8 L375.0 321.7 L382.8 318.0 L390.5 324.7 L398.3 336.4 L406.1 337.7 L413.8 335.6 L421.6 324.4 L429.3 319.3 L437.1 323.1 L444.9 351.7 L452.6 334.1 L460.4 289.4 L468.1 284.2 L475.9 365.3 L483.7 265.9 L491.4 260.6 L499.2 271.1 L506.9 281.6 L514.7 305.1 L522.5 320.8 L530.2 302.5 L538.0 285.2 L545.7 288.4 L553.5 290.5 L561.3 293.1 L569.0 294.7 L576.8 305.1 L584.5 336.5 L592.3 362.7 L600.1 373.2 L607.8 417.3 L615.6 463.8 L623.3 453.5 L631.1 432.0 L638.9 400.0 L646.6 367.0 L654.4 337.4 L662.1 324.1 L669.9 327.0 L677.7 330.4 L685.4 333.3 L693.2 336.2 L700.9 340.1 L708.7 344.4 L716.5 350.2 L724.2 357.0 L732.0 362.1 L739.7 376.0 L747.5 402.5 L755.3 442.2 L763.0 484.1 L770.8 502.0 L778.5 491.6 L786.3 487.7 L794.1 455.8 L801.8 427.8 L809.6 425.5 L817.3 423.4 L825.1 421.3 L832.9 421.3 L840.6 418.2 L848.4 411.7 L856.1 406.7 L863.9 409.6 L871.7 420.4 L879.4 430.0 L887.2 428.6 L894.9 423.4 L902.7 430.6 L910.5 424.8 L918.2 426.6 L926.0 436.7 L933.7 451.4 L941.5 471.4 L949.3 491.6 L957.0 509.8 L964.8 528.0 L972.5 539.9 L980.3 540.1 L988.1 538.8 L995.8 534.3 L1003.6 529.0 L1011.3 526.8 L1019.1 528.1 L1026.9 519.2 L1034.6 499.3 L1042.4 479.3 L1050.1 471.5 L1057.9 465.6 L1065.7 462.5 L1073.4 461.4 L1081.2 460.7 L1088.9 462.8 L1096.7 468.6 L1104.5 466.8 L1112.2 465.9 L1120.0 467.6 L1127.7 468.5 L1135.5 465.6 L1143.3 465.5 L1151.0 468.2 L1158.8 470.1 L1166.5 471.0 L1174.3 473.3 L1182.1 475.0 L1189.8 476.7 L1197.6 479.8 L1205.3 483.3 L1213.1 487.2 L1220.9 491.6 L1228.6 494.7 L1236.4 497.3 L1244.1 501.3 L1251.9 508.3 L1259.7 517.3 L1267.4 526.3 L1275.2 535.6 L1282.9 540.9 L1290.7 542.3 L1298.5 541.6 L1306.2 539.8 L1314.0 535.5 L1321.7 529.0 L1329.5 525.4 L1337.3 529.1 L1345.0 537.3 L1352.8 535.3 L1360.5 527.0 L1368.3 522.8 L1376.1 523.5 L1383.8 528.1 L1391.6 526.8 L1399.3 524.5 L1407.1 520.1 L1414.9 520.4 L1422.6 520.6 L1430.4 520.8 L1438.1 521.1 L1445.9 521.4 L1453.7 522.1 L1461.4 522.7 L1469.2 523.4 L1476.9 524.1 L1484.7 524.7 L1492.5 525.1 L1500.2 525.5 L1508.0 525.9 L1515.7 526.3 L1523.5 526.6 L1531.3 527.3 L1539.0 528.1 L1546.8 528.8 L1554.5 529.5 L1562.3 530.2 L1570.1 530.7 L1577.8 531.3 L1585.6 531.9 L1593.3 532.4 L1601.1 533.0 L1608.9 533.7 L1616.6 534.4 L1624.4 535.2 L1632.1 535.9 L1639.9 536.6 L1647.7 537.2 L1655.4 537.7 L1663.2 538.2 L1670.9 538.8 L1678.7 539.3 L1686.5 539.9 L1694.2 540.4 L1702.0 541.0 L1709.7 541.5 L1717.5 542.0 L1725.3 542.5 L1733.0 543.0" stroke="#ffff00" stroke-width="9.4"/>
<path d="M173.3 390.0 L181.0 315.9 L188.8 315.3 L196.5 310.7 L204.3 286.5 L212.1 269.9 L219.8 267.8 L227.6 273.8 L235.3 282.2 L243.1 288.9 L250.9 293.9 L258.6 296.5 L266.4 297.5 L274.1 286.9 L281.9 278.9 L289.7 277.8 L297.4 286.0 L305.2 292.6 L312.9 296.4 L320.7 299.8 L328.5 300.3 L336.2 300.5 L344.0 302.9 L351.7 304.7 L359.5 304.4 L367.3 308.7 L375.0 312.2 L382.8 307.7 L390.5 314.5 L398.3 326.5 L406.1 328.0 L413.8 325.9 L421.6 314.4 L429.3 309.4 L437.1 314.3 L444.9 343.1 L452.6 320.0 L460.4 276.5 L468.1 271.2 L475.9 358.0 L483.7 252.7 L491.4 247.2 L499.2 258.1 L506.9 268.6 L514.7 293.8 L522.5 310.7 L530.2 291.4 L538.0 273.6 L545.7 276.7 L553.5 278.9 L561.3 281.6 L569.0 283.3 L576.8 293.4 L584.5 327.8 L592.3 354.0 L600.1 364.5 L607.8 406.8 L615.6 461.9 L623.3 451.6 L631.1 428.3 L638.9 394.0 L646.6 360.3 L654.4 329.4 L662.1 315.8 L669.9 318.4 L677.7 321.6 L685.4 324.3 L693.2 326.9 L700.9 330.5 L708.7 334.6 L716.5 340.3 L724.2 347.1 L732.0 352.6 L739.7 366.3 L747.5 389.5 L755.3 424.3 L763.0 468.8 L770.8 495.2 L778.5 486.2 L786.3 480.0 L794.1 442.8 L801.8 411.7 L809.6 410.0 L817.3 407.9 L825.1 405.8 L832.9 405.8 L840.6 401.4 L848.4 394.3 L856.1 390.2 L863.9 392.2 L871.7 401.5 L879.4 413.2 L887.2 413.1 L894.9 407.9 L902.7 414.4 L910.5 408.6 L918.2 410.1 L926.0 418.6 L933.7 437.4 L941.5 460.6 L949.3 484.5 L957.0 506.3 L964.8 526.9 L972.5 539.9 L980.3 540.1 L988.1 538.8 L995.8 534.3 L1003.6 529.0 L1011.3 526.8 L1019.1 528.1 L1026.9 518.6 L1034.6 497.0 L1042.4 474.4 L1050.1 466.3 L1057.9 460.1 L1065.7 457.0 L1073.4 455.9 L1081.2 455.3 L1088.9 457.8 L1096.7 464.2 L1104.5 462.2 L1112.2 461.2 L1120.0 463.2 L1127.7 464.1 L1135.5 461.1 L1143.3 461.0 L1151.0 464.0 L1158.8 466.0 L1166.5 467.1 L1174.3 469.6 L1182.1 471.2 L1189.8 472.8 L1197.6 475.9 L1205.3 479.5 L1213.1 483.6 L1220.9 488.2 L1228.6 491.3 L1236.4 493.9 L1244.1 498.0 L1251.9 505.6 L1259.7 515.1 L1267.4 524.6 L1275.2 534.7 L1282.9 540.3 L1290.7 541.8 L1298.5 540.8 L1306.2 538.7 L1314.0 533.6 L1321.7 525.7 L1329.5 521.5 L1337.3 525.6 L1345.0 535.4 L1352.8 533.3 L1360.5 523.4 L1368.3 518.2 L1376.1 519.2 L1383.8 525.0 L1391.6 523.4 L1399.3 520.8 L1407.1 515.5 L1414.9 515.8 L1422.6 516.1 L1430.4 516.4 L1438.1 516.8 L1445.9 517.1 L1453.7 517.9 L1461.4 518.8 L1469.2 519.6 L1476.9 520.5 L1484.7 521.3 L1492.5 521.7 L1500.2 522.1 L1508.0 522.5 L1515.7 523.0 L1523.5 523.4 L1531.3 524.2 L1539.0 525.1 L1546.8 525.9 L1554.5 526.7 L1562.3 527.6 L1570.1 528.2 L1577.8 528.8 L1585.6 529.5 L1593.3 530.1 L1601.1 530.7 L1608.9 531.6 L1616.6 532.4 L1624.4 533.2 L1632.1 534.1 L1639.9 534.9 L1647.7 535.5 L1655.4 536.2 L1663.2 536.8 L1670.9 537.4 L1678.7 538.0 L1686.5 538.7 L1694.2 539.3 L1702.0 539.9 L1709.7 540.6 L1717.5 541.2 L1725.3 541.7 L1733.0 542.2" stroke="#ffbf00" stroke-width="9.4"/>
<path d="M173.3 390.3 L181.0 317.5 L188.8 316.9 L196.5 312.5 L204.3 288.9 L212.1 272.6 L219.8 270.5 L227.6 276.9 L235.3 285.8 L243.1 292.8 L250.9 298.2 L258.6 301.0 L266.4 302.1 L274.1 291.8 L281.9 284.1 L289.7 283.1 L297.4 291.5 L305.2 298.5 L312.9 302.5 L320.7 306.1 L328.5 307.1 L336.2 307.7 L344.0 310.6 L351.7 312.9 L359.5 313.2 L367.3 317.8 L375.0 321.7 L382.8 318.0 L390.5 324.7 L398.3 336.4 L406.1 337.7 L413.8 335.6 L421.6 324.4 L429.3 319.3 L437.1 323.1 L444.9 347.2 L452.6 321.9 L460.4 275.0 L468.1 269.7 L475.9 357.2 L483.7 251.2 L491.4 245.7 L499.2 256.7 L506.9 267.2 L514.7 292.6 L522.5 309.6 L530.2 290.2 L538.0 272.3 L545.7 275.5 L553.5 277.6 L561.3 280.4 L569.0 282.0 L576.8 292.0 L584.5 326.8 L592.3 353.0 L600.1 363.5 L607.8 404.3 L615.6 461.3 L623.3 450.8 L631.1 426.6 L638.9 391.0 L646.6 356.7 L654.4 325.1 L662.1 311.2 L669.9 313.8 L677.7 316.9 L685.4 319.4 L693.2 321.8 L700.9 325.3 L708.7 329.2 L716.5 335.0 L724.2 341.7 L732.0 347.5 L739.7 361.0 L747.5 384.8 L755.3 420.0 L763.0 466.5 L770.8 494.5 L778.5 486.0 L786.3 480.0 L794.1 443.2 L801.8 412.6 L809.6 410.9 L817.3 408.8 L825.1 406.7 L832.9 406.7 L840.6 402.4 L848.4 395.3 L856.1 391.1 L863.9 393.2 L871.7 402.6 L879.4 414.2 L887.2 414.0 L894.9 408.8 L902.7 415.3 L910.5 409.6 L918.2 411.0 L926.0 419.6 L933.7 438.2 L941.5 461.2 L949.3 484.9 L957.0 506.5 L964.8 527.0 L972.5 539.9 L980.3 540.1 L988.1 538.8 L995.8 534.3 L1003.6 529.0 L1011.3 526.8 L1019.1 528.1 L1026.9 519.2 L1034.6 499.3 L1042.4 479.3 L1050.1 471.5 L1057.9 465.6 L1065.7 462.5 L1073.4 461.4 L1081.2 460.7 L1088.9 462.8 L1096.7 468.6 L1104.5 466.8 L1112.2 465.9 L1120.0 467.6 L1127.7 468.5 L1135.5 465.6 L1143.3 465.5 L1151.0 468.2 L1158.8 470.1 L1166.5 471.0 L1174.3 473.3 L1182.1 475.0 L1189.8 476.7 L1197.6 479.8 L1205.3 483.3 L1213.1 487.2 L1220.9 491.6 L1228.6 494.7 L1236.4 497.3 L1244.1 501.3 L1251.9 508.3 L1259.7 517.2 L1267.4 526.0 L1275.2 535.4 L1282.9 540.8 L1290.7 542.2 L1298.5 541.3 L1306.2 539.4 L1314.0 534.7 L1321.7 527.6 L1329.5 523.6 L1337.3 527.4 L1345.0 536.4 L1352.8 534.3 L1360.5 525.2 L1368.3 520.5 L1376.1 521.3 L1383.8 526.5 L1391.6 525.1 L1399.3 522.7 L1407.1 517.8 L1414.9 518.1 L1422.6 518.3 L1430.4 518.6 L1438.1 518.9 L1445.9 519.3 L1453.7 520.0 L1461.4 520.8 L1469.2 521.5 L1476.9 522.3 L1484.7 523.0 L1492.5 523.4 L1500.2 523.8 L1508.0 524.2 L1515.7 524.6 L1523.5 525.0 L1531.3 525.8 L1539.0 526.6 L1546.8 527.3 L1554.5 528.1 L1562.3 528.9 L1570.1 529.5 L1577.8 530.1 L1585.6 530.7 L1593.3 531.3 L1601.1 531.8 L1608.9 532.6 L1616.6 533.4 L1624.4 534.2 L1632.1 535.0 L1639.9 535.8 L1647.7 536.3 L1655.4 536.9 L1663.2 537.5 L1670.9 538.1 L1678.7 538.7 L1686.5 539.3 L1694.2 539.9 L1702.0 540.4 L1709.7 541.0 L1717.5 541.6 L1725.3 542.1 L1733.0 542.6" stroke="#ff8000" stroke-width="9.4"/>
<path d="M173.3 395.7 L181.0 342.2 L188.8 342.1 L196.5 340.1 L204.3 326.6 L212.1 314.3 L219.8 312.7 L227.6 323.5 L235.3 337.4 L243.1 347.9 L250.9 355.9 L258.6 360.4 L266.4 361.2 L274.1 352.6 L281.9 347.1 L289.7 347.6 L297.4 358.3 L305.2 369.6 L312.9 376.0 L320.7 382.4 L328.5 388.1 L336.2 394.1 L344.0 399.0 L351.7 403.2 L359.5 406.2 L367.3 410.7 L375.0 417.0 L382.8 418.6 L390.5 422.1 L398.3 428.1 L406.1 427.7 L413.8 425.6 L421.6 416.9 L429.3 410.5 L437.1 405.1 L444.9 383.5 L452.6 334.4 L460.4 256.3 L468.1 251.0 L475.9 346.7 L483.7 232.2 L491.4 226.3 L499.2 237.9 L506.9 248.5 L514.7 276.2 L522.5 295.1 L530.2 274.2 L538.0 255.4 L545.7 258.6 L553.5 261.0 L561.3 263.8 L569.0 265.5 L576.8 275.0 L584.5 314.3 L592.3 340.4 L600.1 351.0 L607.8 395.7 L615.6 460.8 L623.3 450.8 L631.1 427.4 L638.9 393.7 L646.6 361.2 L654.4 330.4 L662.1 316.8 L669.9 319.5 L677.7 322.8 L685.4 325.5 L693.2 328.1 L700.9 331.7 L708.7 335.8 L716.5 341.6 L724.2 348.4 L732.0 353.9 L739.7 367.5 L747.5 398.2 L755.3 442.5 L763.0 488.2 L770.8 505.1 L778.5 494.8 L786.3 493.2 L794.1 466.3 L801.8 442.0 L809.6 439.1 L817.3 437.0 L825.1 434.9 L832.9 434.9 L840.6 433.0 L848.4 427.1 L856.1 421.3 L863.9 425.0 L871.7 437.0 L879.4 444.9 L887.2 442.3 L894.9 437.0 L902.7 444.9 L910.5 439.1 L918.2 441.2 L926.0 452.7 L933.7 463.7 L941.5 480.9 L949.3 497.8 L957.0 512.8 L964.8 528.9 L972.5 539.9 L980.3 540.1 L988.1 538.8 L995.8 534.3 L1003.6 529.0 L1011.3 526.8 L1019.1 528.1 L1026.9 523.8 L1034.6 515.8 L1042.4 514.7 L1050.1 509.9 L1057.9 505.7 L1065.7 502.6 L1073.4 501.1 L1081.2 499.9 L1088.9 499.7 L1096.7 500.5 L1104.5 500.1 L1112.2 499.8 L1120.0 499.9 L1127.7 499.9 L1135.5 498.5 L1143.3 497.6 L1151.0 498.6 L1158.8 499.3 L1166.5 499.9 L1174.3 500.8 L1182.1 503.0 L1189.8 505.3 L1197.6 508.0 L1205.3 510.7 L1213.1 513.6 L1220.9 516.6 L1228.6 519.3 L1236.4 521.9 L1244.1 524.7 L1251.9 528.2 L1259.7 532.4 L1267.4 536.5 L1275.2 540.7 L1282.9 544.1 L1290.7 544.8 L1298.5 545.1 L1306.2 544.6 L1314.0 543.6 L1321.7 541.4 L1329.5 539.7 L1337.3 541.2 L1345.0 543.5 L1352.8 541.9 L1360.5 539.1 L1368.3 538.0 L1376.1 537.7 L1383.8 538.5 L1391.6 538.2 L1399.3 537.0 L1407.1 535.3 L1414.9 535.4 L1422.6 535.4 L1430.4 535.5 L1438.1 535.5 L1445.9 535.6 L1453.7 535.7 L1461.4 535.8 L1469.2 535.9 L1476.9 536.0 L1484.7 536.1 L1492.5 536.4 L1500.2 536.6 L1508.0 536.9 L1515.7 537.1 L1523.5 537.3 L1531.3 537.6 L1539.0 537.9 L1546.8 538.2 L1554.5 538.5 L1562.3 538.8 L1570.1 539.2 L1577.8 539.5 L1585.6 539.8 L1593.3 540.2 L1601.1 540.5 L1608.9 540.8 L1616.6 541.2 L1624.4 541.6 L1632.1 541.9 L1639.9 542.3 L1647.7 542.5 L1655.4 542.8 L1663.2 543.1 L1670.9 543.3 L1678.7 543.6 L1686.5 543.8 L1694.2 544.1 L1702.0 544.4 L1709.7 544.6 L1717.5 544.9 L1725.3 545.1 L1733.0 545.4" stroke="#ff4000" stroke-width="9.4"/>
<path d="M173.3 396.7 L181.0 347.0 L188.8 347.0 L196.5 345.4 L204.3 333.9 L212.1 322.4 L219.8 320.8 L227.6 332.9 L235.3 348.0 L243.1 359.6 L250.9 368.5 L258.6 373.7 L266.4 374.7 L274.1 366.9 L281.9 362.2 L289.7 363.7 L297.4 375.8 L305.2 388.9 L312.9 396.7 L320.7 404.6 L328.5 412.4 L336.2 420.8 L344.0 426.6 L351.7 431.8 L359.5 436.0 L367.3 440.7 L375.0 449.1 L382.8 453.8 L390.5 457.4 L398.3 462.7 L406.1 461.6 L413.8 459.5 L421.6 451.7 L429.3 425.2 L437.1 386.6 L444.9 339.0 L452.6 233.9 L460.4 145.5 L468.1 139.7 L475.9 284.2 L483.7 119.3 L491.4 111.5 L499.2 126.6 L506.9 137.6 L514.7 179.5 L522.5 208.8 L530.2 179.5 L538.0 155.4 L545.7 159.1 L553.5 162.2 L561.3 165.9 L569.0 168.0 L576.8 174.3 L584.5 239.7 L592.3 265.9 L600.1 276.9 L607.8 310.4 L615.6 446.4 L623.3 436.0 L631.1 399.3 L638.9 349.6 L646.6 313.0 L654.4 272.7 L662.1 257.0 L669.9 258.0 L677.7 259.6 L685.4 260.6 L693.2 261.2 L700.9 262.7 L708.7 264.5 L716.5 270.4 L724.2 277.1 L732.0 285.4 L739.7 297.3 L747.5 326.9 L755.3 364.8 L763.0 434.0 L770.8 485.0 L778.5 481.5 L786.3 477.0 L794.1 442.7 L801.8 416.9 L809.6 415.0 L817.3 412.9 L825.1 410.8 L832.9 410.8 L840.6 406.9 L848.4 399.9 L856.1 395.5 L863.9 397.8 L871.7 407.6 L879.4 418.7 L887.2 418.1 L894.9 412.9 L902.7 419.6 L910.5 413.9 L918.2 415.4 L926.0 424.4 L933.7 446.8 L941.5 473.6 L949.3 499.3 L957.0 519.6 L964.8 536.4 L972.5 542.8 L980.3 543.3 L988.1 542.2 L995.8 539.6 L1003.6 536.7 L1011.3 535.9 L1019.1 536.7 L1026.9 532.8 L1034.6 526.7 L1042.4 522.9 L1050.1 518.8 L1057.9 515.0 L1065.7 511.9 L1073.4 510.3 L1081.2 508.9 L1088.9 508.2 L1096.7 507.9 L1104.5 507.8 L1112.2 507.7 L1120.0 507.4 L1127.7 507.2 L1135.5 506.1 L1143.3 505.1 L1151.0 505.6 L1158.8 506.1 L1166.5 506.6 L1174.3 507.2 L1182.1 509.5 L1189.8 511.9 L1197.6 514.5 L1205.3 517.1 L1213.1 519.7 L1220.9 522.3 L1228.6 525.0 L1236.4 527.6 L1244.1 530.2 L1251.9 532.8 L1259.7 535.8 L1267.4 538.8 L1275.2 541.8 L1282.9 544.8 L1290.7 545.4 L1298.5 545.9 L1306.2 545.6 L1314.0 545.4 L1321.7 544.1 L1329.5 542.8 L1337.3 543.8 L1345.0 544.8 L1352.8 543.3 L1360.5 541.7 L1368.3 541.2 L1376.1 540.7 L1383.8 540.7 L1391.6 540.7 L1399.3 539.6 L1407.1 538.6 L1414.9 538.6 L1422.6 538.6 L1430.4 538.6 L1438.1 538.6 L1445.9 538.6 L1453.7 538.6 L1461.4 538.6 L1469.2 538.6 L1476.9 538.6 L1484.7 538.6 L1492.5 538.8 L1500.2 539.0 L1508.0 539.2 L1515.7 539.4 L1523.5 539.6 L1531.3 539.8 L1539.0 540.0 L1546.8 540.2 L1554.5 540.4 L1562.3 540.7 L1570.1 540.9 L1577.8 541.2 L1585.6 541.5 L1593.3 541.8 L1601.1 542.1 L1608.9 542.4 L1616.6 542.6 L1624.4 542.9 L1632.1 543.2 L1639.9 543.5 L1647.7 543.7 L1655.4 543.9 L1663.2 544.1 L1670.9 544.3 L1678.7 544.5 L1686.5 544.7 L1694.2 544.9 L1702.0 545.1 L1709.7 545.3 L1717.5 545.5 L1725.3 545.7 L1733.0 545.9" stroke="#ff0000" stroke-width="9.4"/>
<path d="M173.3 396.0 L181.0 343.8 L188.8 343.7 L196.5 341.9 L204.3 329.0 L212.1 317.0 L219.8 315.4 L227.6 326.5 L235.3 340.5 L243.1 351.1 L250.9 359.2 L258.6 363.8 L266.4 364.5 L274.1 355.9 L281.9 350.5 L289.7 351.3 L297.4 362.4 L305.2 374.1 L312.9 381.0 L320.7 387.8 L328.5 394.1 L336.2 400.8 L344.0 405.3 L351.7 409.3 L359.5 412.1 L367.3 416.1 L375.0 422.8 L382.8 425.0 L390.5 428.5 L398.3 434.5 L406.1 433.9 L413.8 431.8 L421.6 423.2 L429.3 416.8 L437.1 410.8 L444.9 375.0 L452.6 305.6 L460.4 220.0 L468.1 214.6 L475.9 326.2 L483.7 195.2 L491.4 188.7 L499.2 201.5 L506.9 212.2 L514.7 244.6 L522.5 266.8 L530.2 243.2 L538.0 222.7 L545.7 226.1 L553.5 228.7 L561.3 231.8 L569.0 233.6 L576.8 242.1 L584.5 289.9 L592.3 316.0 L600.1 326.8 L607.8 366.3 L615.6 455.6 L623.3 445.3 L631.1 416.8 L638.9 376.6 L646.6 342.1 L654.4 307.6 L662.1 293.2 L669.9 295.2 L677.7 297.8 L685.4 299.8 L693.2 301.6 L700.9 304.4 L708.7 307.6 L716.5 313.4 L724.2 320.2 L732.0 326.8 L739.7 339.7 L747.5 368.1 L755.3 407.6 L763.0 462.2 L770.8 494.8 L778.5 487.4 L786.3 483.6 L794.1 451.3 L801.8 424.7 L809.6 422.5 L817.3 420.4 L825.1 418.3 L832.9 418.3 L840.6 415.0 L848.4 408.3 L856.1 403.5 L863.9 406.2 L871.7 416.7 L879.4 426.8 L887.2 425.6 L894.9 420.4 L902.7 427.4 L910.5 421.7 L918.2 423.4 L926.0 433.2 L933.7 451.1 L941.5 474.0 L949.3 496.4 L957.0 515.2 L964.8 532.3 L972.5 541.3 L980.3 541.7 L988.1 540.5 L995.8 536.9 L1003.6 532.8 L1011.3 531.4 L1019.1 532.4 L1026.9 527.8 L1034.6 519.3 L1042.4 514.7 L1050.1 509.9 L1057.9 505.7 L1065.7 502.6 L1073.4 501.1 L1081.2 499.9 L1088.9 499.7 L1096.7 500.5 L1104.5 500.1 L1112.2 499.8 L1120.0 499.9 L1127.7 499.9 L1135.5 498.5 L1143.3 497.6 L1151.0 498.6 L1158.8 499.3 L1166.5 499.9 L1174.3 500.8 L1182.1 503.0 L1189.8 505.3 L1197.6 508.0 L1205.3 510.7 L1213.1 513.6 L1220.9 516.6 L1228.6 519.3 L1236.4 521.9 L1244.1 524.7 L1251.9 528.2 L1259.7 532.4 L1267.4 536.5 L1275.2 540.7 L1282.9 544.1 L1290.7 544.8 L1298.5 545.1 L1306.2 544.6 L1314.0 543.6 L1321.7 541.4 L1329.5 539.7 L1337.3 541.2 L1345.0 543.5 L1352.8 541.9 L1360.5 539.1 L1368.3 538.0 L1376.1 537.7 L1383.8 538.5 L1391.6 538.2 L1399.3 537.0 L1407.1 535.3 L1414.9 535.4 L1422.6 535.4 L1430.4 535.5 L1438.1 535.5 L1445.9 535.6 L1453.7 535.7 L1461.4 535.8 L1469.2 535.9 L1476.9 536.0 L1484.7 536.1 L1492.5 536.4 L1500.2 536.6 L1508.0 536.9 L1515.7 537.1 L1523.5 537.3 L1531.3 537.6 L1539.0 537.9 L1546.8 538.2 L1554.5 538.5 L1562.3 538.8 L1570.1 539.2 L1577.8 539.5 L1585.6 539.8 L1593.3 540.2 L1601.1 540.5 L1608.9 540.8 L1616.6 541.2 L1624.4 541.6 L1632.1 541.9 L1639.9 542.3 L1647.7 542.5 L1655.4 542.8 L1663.2 543.1 L1670.9 543.3 L1678.7 543.6 L1686.5 543.8 L1694.2 544.1 L1702.0 544.4 L1709.7 544.6 L1717.5 544.9 L1725.3 545.1 L1733.0 545.4" stroke="#dd0000" stroke-width="9.4"/>
<path d="M173.3 379.5 L181.0 267.3 L188.8 265.7 L196.5 256.4 L204.3 212.2 L212.1 187.8 L219.8 184.7 L227.6 186.3 L235.3 190.0 L243.1 195.2 L250.9 200.4 L258.6 204.6 L266.4 210.4 L274.1 201.5 L281.9 194.7 L289.7 195.7 L297.4 205.2 L305.2 210.9 L312.9 216.2 L320.7 220.9 L328.5 220.9 L336.2 220.3 L344.0 225.0 L351.7 229.2 L359.5 230.8 L367.3 239.2 L375.0 242.8 L382.8 236.6 L390.5 247.6 L398.3 265.3 L406.1 268.0 L413.8 265.9 L421.6 252.8 L429.3 248.6 L437.1 259.6 L444.9 316.1 L452.6 304.2 L460.4 280.1 L468.1 274.8 L475.9 360.0 L483.7 256.3 L491.4 250.9 L499.2 261.7 L506.9 272.2 L514.7 297.0 L522.5 313.5 L530.2 294.5 L538.0 276.8 L545.7 280.0 L553.5 282.1 L561.3 284.8 L569.0 286.4 L576.8 296.6 L584.5 330.2 L592.3 356.4 L600.1 366.9 L607.8 414.9 L615.6 464.2 L623.3 454.4 L631.1 434.4 L638.9 404.9 L646.6 373.7 L654.4 345.4 L662.1 332.3 L669.9 335.5 L677.7 339.1 L685.4 342.3 L693.2 345.4 L700.9 349.6 L708.7 354.3 L716.5 360.1 L724.2 366.9 L732.0 371.6 L739.7 385.7 L747.5 412.7 L755.3 453.7 L763.0 492.4 L770.8 505.2 L778.5 493.8 L786.3 490.5 L794.1 460.1 L801.8 432.5 L809.6 430.0 L817.3 427.9 L825.1 425.8 L832.9 425.8 L840.6 423.2 L848.4 416.8 L856.1 411.6 L863.9 414.7 L871.7 425.9 L879.4 435.0 L887.2 433.2 L894.9 427.9 L902.7 435.3 L910.5 429.6 L918.2 431.5 L926.0 442.0 L933.7 452.2 L941.5 468.2 L949.3 485.3 L957.0 502.7 L964.8 522.2 L972.5 538.0 L980.3 538.0 L988.1 536.5 L995.8 530.7 L1003.6 523.9 L1011.3 520.8 L1019.1 522.3 L1026.9 514.7 L1034.6 497.4 L1042.4 485.4 L1050.1 478.2 L1057.9 472.6 L1065.7 469.5 L1073.4 468.3 L1081.2 467.5 L1088.9 469.2 L1096.7 474.1 L1104.5 472.6 L1112.2 471.8 L1120.0 473.2 L1127.7 473.9 L1135.5 471.3 L1143.3 471.1 L1151.0 473.5 L1158.8 475.2 L1166.5 476.1 L1174.3 478.1 L1182.1 479.9 L1189.8 481.7 L1197.6 484.7 L1205.3 488.1 L1213.1 491.8 L1220.9 496.0 L1228.6 499.0 L1236.4 501.6 L1244.1 505.4 L1251.9 511.8 L1259.7 519.7 L1267.4 527.8 L1275.2 536.3 L1282.9 541.3 L1290.7 542.6 L1298.5 541.9 L1306.2 540.2 L1314.0 536.0 L1321.7 529.5 L1329.5 525.8 L1337.3 529.3 L1345.0 537.3 L1352.8 535.3 L1360.5 527.0 L1368.3 522.8 L1376.1 523.5 L1383.8 528.1 L1391.6 526.8 L1399.3 524.5 L1407.1 520.1 L1414.9 520.4 L1422.6 520.6 L1430.4 520.8 L1438.1 521.1 L1445.9 521.4 L1453.7 522.1 L1461.4 522.7 L1469.2 523.4 L1476.9 524.1 L1484.7 524.7 L1492.5 525.1 L1500.2 525.5 L1508.0 525.9 L1515.7 526.3 L1523.5 526.6 L1531.3 527.3 L1539.0 528.1 L1546.8 528.8 L1554.5 529.5 L1562.3 530.2 L1570.1 530.7 L1577.8 531.3 L1585.6 531.9 L1593.3 532.4 L1601.1 533.0 L1608.9 533.7 L1616.6 534.4 L1624.4 535.2 L1632.1 535.9 L1639.9 536.6 L1647.7 537.2 L1655.4 537.7 L1663.2 538.2 L1670.9 538.8 L1678.7 539.3 L1686.5 539.9 L1694.2 540.4 L1702.0 541.0 L1709.7 541.5 L1717.5 542.0 L1725.3 542.5 L1733.0 543.0" stroke="#990000" stroke-width="9.4"/>
</g>
<g stroke="#262626" stroke-width="2.4" fill="none">
<rect x="166.6" y="85.3" width="1565.3" height="523.4"/>
<path d="M631.9 608.7V593.7M631.9 85.3V100.3"/>
<path d="M1407.9 608.7V593.7M1407.9 85.3V100.3"/>
<path d="M1563.1 608.7V593.7M1563.1 85.3V100.3"/>
<path d="M1718.3 608.7V593.7M1718.3 85.3V100.3"/>
<path d="M166.6 504.0H181.6M1731.9 504.0H1716.9"/>
<path d="M166.6 399.3H181.6M1731.9 399.3H1716.9"/>
<path d="M166.6 294.7H181.6M1731.9 294.7H1716.9"/>
<path d="M166.6 190.0H181.6M1731.9 190.0H1716.9"/>
</g>
<g fill="#0000ff">
<rect x="169.87" y="84.1" width="2.31" height="525.8" fill-opacity="0.78"/>
<rect x="171.88" y="84.1" width="2.61" height="525.8"/>
<rect x="174.50" y="84.1" width="2.31" height="525.8" fill-opacity="0.36"/>
<rect x="176.81" y="84.1" width="2.31" height="525.8" fill-opacity="0.04"/>
<rect x="176.81" y="84.1" width="2.31" height="525.8" fill-opacity="0.16"/>
<rect x="179.12" y="84.1" width="4.62" height="525.8"/>
<rect x="183.74" y="84.1" width="2.31" height="525.8" fill-opacity="0.05"/>
<rect x="186.06" y="84.1" width="4.62" height="525.8"/>
<rect x="190.68" y="84.1" width="2.31" height="525.8" fill-opacity="0.06"/>
<rect x="192.99" y="84.1" width="2.31" height="525.8" fill-opacity="0.66"/>
<rect x="195.00" y="84.1" width="2.61" height="525.8"/>
<rect x="197.61" y="84.1" width="2.31" height="525.8" fill-opacity="0.36"/>
<rect x="199.93" y="84.1" width="2.31" height="525.8" fill-opacity="0.04"/>
<rect x="199.93" y="84.1" width="2.31" height="525.8" fill-opacity="0.09"/>
<rect x="202.24" y="84.1" width="4.62" height="525.8"/>
<rect x="206.86" y="84.1" width="2.31" height="525.8" fill-opacity="0.05"/>
<rect x="209.17" y="84.1" width="4.62" height="525.8"/>
<rect x="213.80" y="84.1" width="2.31" height="525.8" fill-opacity="0.14"/>
<rect x="216.11" y="84.1" width="2.31" height="525.8" fill-opacity="0.54"/>
<rect x="218.12" y="84.1" width="2.61" height="525.8"/>
<rect x="220.73" y="84.1" width="2.31" height="525.8" fill-opacity="0.39"/>
<rect x="223.04" y="84.1" width="2.31" height="525.8" fill-opacity="0.04"/>
<rect x="225.36" y="84.1" width="4.62" height="525.8"/>
<rect x="229.98" y="84.1" width="2.31" height="525.8" fill-opacity="0.05"/>
<rect x="232.29" y="84.1" width="4.62" height="525.8"/>
<rect x="236.92" y="84.1" width="2.31" height="525.8" fill-opacity="0.21"/>
<rect x="239.23" y="84.1" width="2.31" height="525.8" fill-opacity="0.42"/>
<rect x="241.24" y="84.1" width="2.61" height="525.8"/>
<rect x="243.85" y="84.1" width="2.31" height="525.8" fill-opacity="0.44"/>
<rect x="246.16" y="84.1" width="2.31" height="525.8" fill-opacity="0.04"/>
<rect x="248.47" y="84.1" width="4.62" height="525.8"/>
<rect x="253.10" y="84.1" width="2.31" height="525.8" fill-opacity="0.05"/>
<rect x="262.35" y="84.1" width="2.31" height="525.8" fill-opacity="0.25"/>
<rect x="264.66" y="84.1" width="4.62" height="525.8"/>
<rect x="269.28" y="84.1" width="2.31" height="525.8" fill-opacity="0.05"/>
<rect x="278.53" y="84.1" width="2.31" height="525.8" fill-opacity="0.79"/>
<rect x="280.54" y="84.1" width="2.61" height="525.8"/>
<rect x="283.15" y="84.1" width="2.31" height="525.8" fill-opacity="0.36"/>
<rect x="285.46" y="84.1" width="2.31" height="525.8" fill-opacity="0.04"/>
<rect x="294.71" y="84.1" width="4.62" height="525.8"/>
<rect x="299.33" y="84.1" width="2.31" height="525.8" fill-opacity="0.05"/>
<rect x="301.65" y="84.1" width="2.31" height="525.8" fill-opacity="0.67"/>
<rect x="303.66" y="84.1" width="2.61" height="525.8"/>
<rect x="306.27" y="84.1" width="2.31" height="525.8" fill-opacity="0.36"/>
<rect x="308.58" y="84.1" width="2.31" height="525.8" fill-opacity="0.04"/>
<rect x="308.58" y="84.1" width="2.31" height="525.8" fill-opacity="0.09"/>
<rect x="310.89" y="84.1" width="4.62" height="525.8"/>
<rect x="315.52" y="84.1" width="2.31" height="525.8" fill-opacity="0.05"/>
<rect x="317.83" y="84.1" width="4.62" height="525.8"/>
<rect x="322.45" y="84.1" width="2.31" height="525.8" fill-opacity="0.13"/>
<rect x="334.01" y="84.1" width="4.62" height="525.8"/>
<rect x="338.63" y="84.1" width="2.31" height="525.8" fill-opacity="0.05"/>
<rect x="347.88" y="84.1" width="2.31" height="525.8" fill-opacity="0.43"/>
<rect x="349.89" y="84.1" width="2.61" height="525.8"/>
<rect x="352.51" y="84.1" width="2.31" height="525.8" fill-opacity="0.44"/>
<rect x="354.82" y="84.1" width="2.31" height="525.8" fill-opacity="0.04"/>
<rect x="364.06" y="84.1" width="4.62" height="525.8"/>
<rect x="368.69" y="84.1" width="2.31" height="525.8" fill-opacity="0.28"/>
<rect x="380.25" y="84.1" width="4.62" height="525.8"/>
<rect x="384.87" y="84.1" width="2.31" height="525.8" fill-opacity="0.05"/>
<rect x="403.37" y="84.1" width="4.62" height="525.8"/>
<rect x="407.99" y="84.1" width="2.31" height="525.8" fill-opacity="0.05"/>
<rect x="410.30" y="84.1" width="2.31" height="525.8" fill-opacity="0.68"/>
<rect x="412.31" y="84.1" width="2.61" height="525.8"/>
<rect x="414.92" y="84.1" width="2.31" height="525.8" fill-opacity="0.36"/>
<rect x="417.24" y="84.1" width="2.31" height="525.8" fill-opacity="0.04"/>
<rect x="417.24" y="84.1" width="2.31" height="525.8" fill-opacity="0.10"/>
<rect x="419.55" y="84.1" width="4.62" height="525.8"/>
<rect x="424.17" y="84.1" width="2.31" height="525.8" fill-opacity="0.05"/>
<rect x="426.48" y="84.1" width="4.62" height="525.8"/>
<rect x="431.11" y="84.1" width="2.31" height="525.8" fill-opacity="0.12"/>
<rect x="433.42" y="84.1" width="2.31" height="525.8" fill-opacity="0.56"/>
<rect x="435.43" y="84.1" width="2.61" height="525.8"/>
<rect x="438.04" y="84.1" width="2.31" height="525.8" fill-opacity="0.38"/>
<rect x="440.35" y="84.1" width="2.31" height="525.8" fill-opacity="0.04"/>
<rect x="440.35" y="84.1" width="2.31" height="525.8" fill-opacity="0.02"/>
<rect x="442.67" y="84.1" width="4.62" height="525.8"/>
<rect x="447.29" y="84.1" width="2.31" height="525.8" fill-opacity="0.05"/>
<rect x="449.60" y="84.1" width="4.62" height="525.8"/>
<rect x="454.22" y="84.1" width="2.31" height="525.8" fill-opacity="0.20"/>
<rect x="456.54" y="84.1" width="2.31" height="525.8" fill-opacity="0.44"/>
<rect x="458.55" y="84.1" width="2.61" height="525.8"/>
<rect x="461.16" y="84.1" width="2.31" height="525.8" fill-opacity="0.43"/>
<rect x="463.47" y="84.1" width="2.31" height="525.8" fill-opacity="0.04"/>
<rect x="465.78" y="84.1" width="4.62" height="525.8"/>
<rect x="470.41" y="84.1" width="2.31" height="525.8" fill-opacity="0.05"/>
<rect x="472.72" y="84.1" width="4.62" height="525.8"/>
<rect x="477.34" y="84.1" width="2.31" height="525.8" fill-opacity="0.28"/>
<rect x="479.65" y="84.1" width="2.31" height="525.8" fill-opacity="0.26"/>
<rect x="481.97" y="84.1" width="4.62" height="525.8"/>
<rect x="486.59" y="84.1" width="2.31" height="525.8" fill-opacity="0.05"/>
<rect x="512.02" y="84.1" width="4.62" height="525.8"/>
<rect x="516.64" y="84.1" width="2.31" height="525.8" fill-opacity="0.05"/>
<rect x="558.26" y="84.1" width="4.62" height="525.8"/>
<rect x="562.88" y="84.1" width="2.31" height="525.8" fill-opacity="0.19"/>
<rect x="581.37" y="84.1" width="4.62" height="525.8"/>
<rect x="586.00" y="84.1" width="2.31" height="525.8" fill-opacity="0.27"/>
<rect x="604.49" y="84.1" width="4.62" height="525.8"/>
<rect x="609.12" y="84.1" width="2.31" height="525.8" fill-opacity="0.35"/>
<rect x="611.43" y="84.1" width="2.31" height="525.8" fill-opacity="0.19"/>
<rect x="613.74" y="84.1" width="4.62" height="525.8"/>
<rect x="618.36" y="84.1" width="2.31" height="525.8" fill-opacity="0.05"/>
<rect x="634.54" y="84.1" width="2.31" height="525.8" fill-opacity="0.11"/>
<rect x="636.86" y="84.1" width="4.62" height="525.8"/>
<rect x="641.48" y="84.1" width="2.31" height="525.8" fill-opacity="0.05"/>
<rect x="666.91" y="84.1" width="4.62" height="525.8"/>
<rect x="671.53" y="84.1" width="2.31" height="525.8" fill-opacity="0.19"/>
<rect x="713.15" y="84.1" width="4.62" height="525.8"/>
<rect x="717.77" y="84.1" width="2.31" height="525.8" fill-opacity="0.34"/>
<rect x="752.45" y="84.1" width="4.62" height="525.8"/>
<rect x="757.07" y="84.1" width="2.31" height="525.8" fill-opacity="0.10"/>
<rect x="759.38" y="84.1" width="2.31" height="525.8" fill-opacity="0.59"/>
<rect x="761.39" y="84.1" width="2.61" height="525.8"/>
<rect x="764.01" y="84.1" width="2.31" height="525.8" fill-opacity="0.36"/>
<rect x="766.32" y="84.1" width="2.31" height="525.8" fill-opacity="0.04"/>
<rect x="766.32" y="84.1" width="2.31" height="525.8" fill-opacity="0.04"/>
<rect x="768.63" y="84.1" width="4.62" height="525.8"/>
<rect x="773.25" y="84.1" width="2.31" height="525.8" fill-opacity="0.05"/>
<rect x="775.56" y="84.1" width="4.62" height="525.8"/>
<rect x="780.19" y="84.1" width="2.31" height="525.8" fill-opacity="0.18"/>
<rect x="782.50" y="84.1" width="2.31" height="525.8" fill-opacity="0.47"/>
<rect x="784.51" y="84.1" width="2.61" height="525.8"/>
<rect x="787.12" y="84.1" width="2.31" height="525.8" fill-opacity="0.42"/>
<rect x="789.44" y="84.1" width="2.31" height="525.8" fill-opacity="0.04"/>
<rect x="791.75" y="84.1" width="4.62" height="525.8"/>
<rect x="796.37" y="84.1" width="2.31" height="525.8" fill-opacity="0.05"/>
<rect x="798.68" y="84.1" width="4.62" height="525.8"/>
<rect x="803.31" y="84.1" width="2.31" height="525.8" fill-opacity="0.26"/>
<rect x="884.22" y="84.1" width="4.62" height="525.8"/>
<rect x="888.84" y="84.1" width="2.31" height="525.8" fill-opacity="0.17"/>
<rect x="900.40" y="84.1" width="4.62" height="525.8"/>
<rect x="905.03" y="84.1" width="2.31" height="525.8" fill-opacity="0.05"/>
<rect x="923.52" y="84.1" width="4.62" height="525.8"/>
<rect x="928.14" y="84.1" width="2.31" height="525.8" fill-opacity="0.05"/>
<rect x="937.39" y="84.1" width="2.31" height="525.8" fill-opacity="0.21"/>
<rect x="939.70" y="84.1" width="4.62" height="525.8"/>
<rect x="944.33" y="84.1" width="2.31" height="525.8" fill-opacity="0.05"/>
<rect x="946.64" y="84.1" width="4.62" height="525.8"/>
<rect x="951.26" y="84.1" width="2.31" height="525.8" fill-opacity="0.05"/>
<rect x="953.57" y="84.1" width="2.31" height="525.8" fill-opacity="0.73"/>
<rect x="955.59" y="84.1" width="2.61" height="525.8"/>
<rect x="958.20" y="84.1" width="2.31" height="525.8" fill-opacity="0.36"/>
<rect x="960.51" y="84.1" width="2.31" height="525.8" fill-opacity="0.04"/>
<rect x="960.51" y="84.1" width="2.31" height="525.8" fill-opacity="0.13"/>
<rect x="962.82" y="84.1" width="4.62" height="525.8"/>
<rect x="967.44" y="84.1" width="2.31" height="525.8" fill-opacity="0.05"/>
<rect x="983.63" y="84.1" width="2.31" height="525.8" fill-opacity="0.06"/>
<rect x="985.94" y="84.1" width="4.62" height="525.8"/>
<rect x="990.56" y="84.1" width="2.31" height="525.8" fill-opacity="0.05"/>
<rect x="999.81" y="84.1" width="2.31" height="525.8" fill-opacity="0.49"/>
<rect x="1001.82" y="84.1" width="2.61" height="525.8"/>
<rect x="1004.43" y="84.1" width="2.31" height="525.8" fill-opacity="0.41"/>
<rect x="1006.74" y="84.1" width="2.31" height="525.8" fill-opacity="0.04"/>
<rect x="1009.06" y="84.1" width="4.62" height="525.8"/>
<rect x="1013.68" y="84.1" width="2.31" height="525.8" fill-opacity="0.05"/>
<rect x="1032.17" y="84.1" width="4.62" height="525.8"/>
<rect x="1036.80" y="84.1" width="2.31" height="525.8" fill-opacity="0.05"/>
<rect x="1039.11" y="84.1" width="4.62" height="525.8"/>
<rect x="1043.73" y="84.1" width="2.31" height="525.8" fill-opacity="0.32"/>
<rect x="1046.05" y="84.1" width="2.31" height="525.8" fill-opacity="0.22"/>
<rect x="1048.36" y="84.1" width="4.62" height="525.8"/>
<rect x="1052.98" y="84.1" width="2.31" height="525.8" fill-opacity="0.05"/>
<rect x="1092.28" y="84.1" width="2.31" height="525.8" fill-opacity="0.06"/>
<rect x="1094.59" y="84.1" width="4.62" height="525.8"/>
<rect x="1099.22" y="84.1" width="2.31" height="525.8" fill-opacity="0.05"/>
<rect x="1124.65" y="84.1" width="4.62" height="525.8"/>
<rect x="1129.27" y="84.1" width="2.31" height="525.8" fill-opacity="0.24"/>
<rect x="1170.88" y="84.1" width="2.31" height="525.8" fill-opacity="0.75"/>
<rect x="1172.89" y="84.1" width="2.61" height="525.8"/>
<rect x="1175.51" y="84.1" width="2.31" height="525.8" fill-opacity="0.36"/>
<rect x="1177.82" y="84.1" width="2.31" height="525.8" fill-opacity="0.04"/>
<rect x="1226.37" y="84.1" width="4.62" height="525.8"/>
<rect x="1230.99" y="84.1" width="2.31" height="525.8" fill-opacity="0.05"/>
<rect x="1249.48" y="84.1" width="4.62" height="525.8"/>
<rect x="1254.11" y="84.1" width="2.31" height="525.8" fill-opacity="0.05"/>
<rect x="1256.42" y="84.1" width="4.62" height="525.8"/>
<rect x="1261.04" y="84.1" width="2.31" height="525.8" fill-opacity="0.31"/>
<rect x="1286.47" y="84.1" width="2.31" height="525.8" fill-opacity="0.15"/>
<rect x="1288.78" y="84.1" width="4.62" height="525.8"/>
<rect x="1293.41" y="84.1" width="2.31" height="525.8" fill-opacity="0.05"/>
<rect x="1309.59" y="84.1" width="2.31" height="525.8" fill-opacity="0.08"/>
<rect x="1311.90" y="84.1" width="4.62" height="525.8"/>
<rect x="1316.53" y="84.1" width="2.31" height="525.8" fill-opacity="0.05"/>
<rect x="1318.84" y="84.1" width="4.62" height="525.8"/>
<rect x="1323.46" y="84.1" width="2.31" height="525.8" fill-opacity="0.14"/>
<rect x="1325.77" y="84.1" width="2.31" height="525.8" fill-opacity="0.53"/>
<rect x="1327.78" y="84.1" width="2.61" height="525.8"/>
<rect x="1330.40" y="84.1" width="2.31" height="525.8" fill-opacity="0.39"/>
<rect x="1332.71" y="84.1" width="2.31" height="525.8" fill-opacity="0.04"/>
<rect x="1411.31" y="84.1" width="2.31" height="525.8" fill-opacity="0.66"/>
<rect x="1413.32" y="84.1" width="2.61" height="525.8"/>
<rect x="1415.93" y="84.1" width="2.31" height="525.8" fill-opacity="0.36"/>
<rect x="1418.25" y="84.1" width="2.31" height="525.8" fill-opacity="0.04"/>
<rect x="1605.50" y="84.1" width="2.31" height="525.8" fill-opacity="0.80"/>
<rect x="1607.51" y="84.1" width="2.61" height="525.8"/>
<rect x="1610.12" y="84.1" width="2.31" height="525.8" fill-opacity="0.36"/>
<rect x="1612.44" y="84.1" width="2.31" height="525.8" fill-opacity="0.04"/>
</g>
<g>
<g class="tk" text-anchor="middle">
<text transform="translate(166.0 668.0) scale(1.01 1.075)">0</text>
<text transform="translate(321.2 668.0) scale(1.01 1.075)">20</text>
<text transform="translate(476.4 668.0) scale(1.01 1.075)">40</text>
<text transform="translate(631.6 668.0) scale(1.01 1.075)">60</text>
<text transform="translate(786.8 668.0) scale(1.01 1.075)">80</text>
<text transform="translate(942.0 668.0) scale(1.01 1.075)">100</text>
<text transform="translate(1097.2 668.0) scale(1.01 1.075)">120</text>
<text transform="translate(1252.4 668.0) scale(1.01 1.075)">140</text>
<text transform="translate(1407.6 668.0) scale(1.01 1.075)">160</text>
<text transform="translate(1562.8 668.0) scale(1.01 1.075)">180</text>
<text transform="translate(1716.1 668.0) scale(1.035 1.075)">200</text>
</g>
<g class="tk" text-anchor="end">
<text transform="translate(150.0 626.9) scale(1.02 1.075)">0</text>
<text transform="translate(150.0 519.9) scale(1.02 1.075)">0.2</text>
<text transform="translate(150.0 415.2) scale(1.02 1.075)">0.4</text>
<text transform="translate(150.0 310.6) scale(1.02 1.075)">0.6</text>
<text transform="translate(150.0 205.9) scale(1.02 1.075)">0.8</text>
<text transform="translate(150.0 101.2) scale(1.02 1.075)">1</text>
</g>
<text class="lb" text-anchor="middle" x="948.6" y="734.5">Band Index</text>
<text class="lb" text-anchor="middle" transform="translate(68.6 345.0) rotate(-90) scale(1.006 1)">Spectral Value</text>
<text class="cap" y="854.6"><tspan x="838.8" font-size="85" textLength="25.2" lengthAdjust="spacingAndGlyphs">(</tspan><tspan x="865" y="855.3" font-size="88.5" font-weight="bold" textLength="50.7" lengthAdjust="spacingAndGlyphs">b</tspan><tspan x="916.8" y="854.6" font-size="85" textLength="25.2" lengthAdjust="spacingAndGlyphs">)</tspan></text>
</g>
</g>
</svg>
</body></html>
